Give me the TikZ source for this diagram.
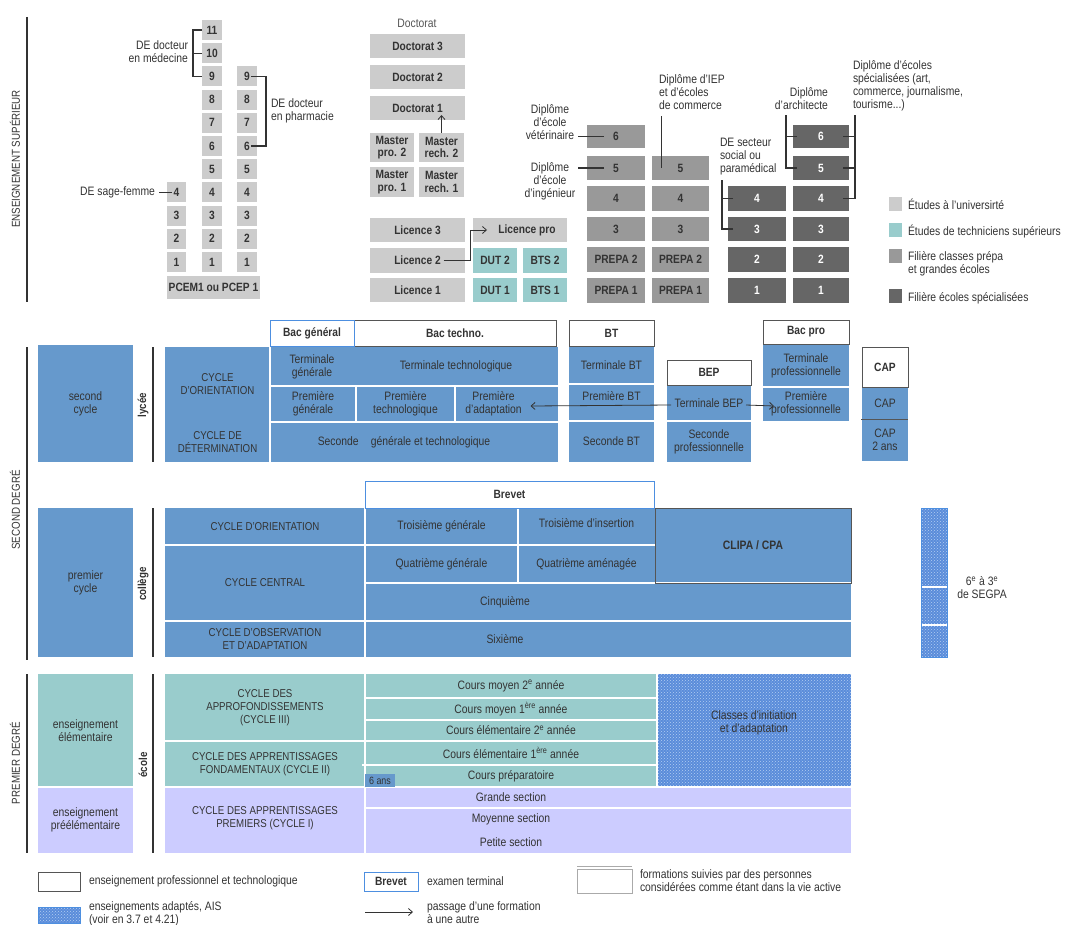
\documentclass[tikz,border=0pt]{standalone}
\usepackage{fontspec}
\setmainfont{Liberation Sans}[FakeStretch=0.85]
\usetikzlibrary{calc,patterns,arrows.meta}
\definecolor{txt}{HTML}{333333}
\definecolor{unic}{HTML}{CCCCCC}
\definecolor{tealc}{HTML}{99CCCC}
\definecolor{prepc}{HTML}{999999}
\definecolor{specc}{HTML}{666666}
\definecolor{bluec}{HTML}{6699CC}
\definecolor{lavc}{HTML}{CCCCFF}
\definecolor{exc}{HTML}{4D8FE0}
\definecolor{hdrc}{HTML}{555555}
\definecolor{segf}{HTML}{5A8CDA}
\definecolor{segd}{HTML}{B4CFF2}
\definecolor{lgc}{HTML}{AAAAAA}
\definecolor{docc}{HTML}{555555}
\newcommand\bx[7]{\node[#1, minimum width={((#5)-(#3))*1pt}, minimum height={((#6)-(#4))*1pt}] (#2) at ({((#3)+(#5))/2},{((#4)+(#6))/2}) {#7};}
\begin{document}
\begin{tikzpicture}[x=1pt,y=-1pt,
  base/.style={inner sep=0pt, outer sep=0pt, align=center, text=txt, font=\fontsize{12.2}{13}\selectfont},
  bb/.style={base, font=\fontsize{12}{12.5}\selectfont\bfseries},
  uni/.style={bb, fill=unic},
  tec/.style={bb, fill=tealc},
  prp/.style={bb, fill=prepc},
  spc/.style={bb, fill=specc, text=white},
  blu/.style={base, fill=bluec},
  tea/.style={base, fill=tealc},
  lav/.style={base, fill=lavc},
  hdr/.style={bb, fill=white, draw=hdrc, line width=0.9pt},
  exm/.style={bb, fill=white, draw=exc, line width=0.9pt},
  lab/.style={base},
  cyc/.style={font=\fontsize{11.4}{13}\selectfont},
  sep/.style={draw=white, line width=1.3pt},
  brk/.style={draw=txt, line width=1.1pt},
  arr/.style={draw=txt, line width=0.8pt, -{Straight Barb[length=4pt,width=7pt]}},
  segn/.style={base, preaction={fill=segf}, pattern=crosshatch dots, pattern color=segd},
  rot/.style={base, rotate=90, font=\fontsize{11.5}{12}\selectfont},
  axis/.style={draw=txt, line width=1.1pt}
]
\useasboundingbox (0,0) rectangle (1067,925);

% ---------------- axes
\draw[axis] (27,17) -- (27,302);
\node[rot] (tsup) at (15,159) {ENSEIGNEMENT SUPÉRIEUR};
\draw[axis] (27,347) -- (27,660);
\node[rot] (tsec) at (15,510) {SECOND DEGRÉ};
\draw[axis] (27,674) -- (27,853);
\node[rot] (tpre) at (15,763) {PREMIER DEGRÉ};

% ---------------- enseignement supérieur : santé
\foreach \k/\y in {4/192.4,3/215.6,2/238.8,1/262} {\bx{uni}{a\k}{167}{\y-10}{186}{\y+10}{\k}}
\foreach \k in {1,...,11} {\pgfmathsetmacro\yy{262-(\k-1)*23.2}\bx{uni}{b\k}{202}{\yy-10}{222}{\yy+10}{\k}}
\foreach \k in {1,...,9} {\pgfmathsetmacro\yy{262-(\k-1)*23.2}\bx{uni}{c\k}{237}{\yy-10}{257}{\yy+10}{\k}}
\bx{uni}{pcem}{167}{276}{260}{299}{PCEM1 ou PCEP 1}

\draw[brk] (b11.west) -- ++(-9,0) |- (b9.west);
\draw[brk] (b10.west) -- ++(-9,0);
\node[lab, anchor=east, align=right] (lmed) at (188,52) {DE docteur\\en médecine};
\draw[brk] ($(c9.center)+(4,0)$) -- ($(c9.center)+(19,0)$) |- ($(c6.center)+(4,0)$);
\node[lab, anchor=west, align=left] (lph) at (271,111) {DE docteur\\en pharmacie};
\draw[brk] ($(a4.center)+(-5,0)$) -- ++(-13,0);
\node[lab, anchor=east] (lsf) at (155,192.4) {DE sage-femme};

% ---------------- université
\node[lab, text=docc] (ldoc) at (417,23) {Doctorat};
\bx{uni}{d3}{370}{34}{465}{58}{Doctorat 3}
\bx{uni}{d2}{370}{65}{465}{89}{Doctorat 2}
\bx{uni}{d1}{370}{96}{465}{120}{Doctorat 1}
\bx{uni}{mp2}{370}{133}{414}{162}{Master\\pro. 2}
\bx{uni}{mr2}{419}{133}{464}{162}{Master\\rech. 2}
\bx{uni}{mp1}{370}{167}{414}{197}{Master\\pro. 1}
\bx{uni}{mr1}{419}{167}{464}{197}{Master\\rech. 1}
\bx{uni}{l3}{370}{218}{465}{242}{Licence 3}
\bx{uni}{l2}{370}{248}{465}{273}{Licence 2}
\bx{uni}{l1}{370}{278}{465}{302}{Licence 1}
\bx{uni}{lpro}{473}{218}{567}{242}{\hspace*{14pt}Licence pro}
\bx{tec}{dut2}{473}{248}{517}{273}{DUT 2}
\bx{tec}{bts2}{523}{248}{567}{273}{BTS 2}
\bx{tec}{dut1}{473}{278}{517}{302}{DUT 1}
\bx{tec}{bts1}{523}{278}{567}{302}{BTS 1}
\draw[arr] (mr2.north) -- ($(mr2.north |- d1.south)+(0,-5)$);
\draw[arr] ($(l2.center)+(26,0)$) -- ($(l2.east)+(5,0)$) |- ($(lpro.west)+(14,0)$);

% ---------------- prépa / écoles
\foreach \n/\ya/\yb/\tx in {6/125/148/6,5/156/180/5,4/186/211/4,3/217/241/3,2/247/272/PREPA 2,1/278/303/PREPA 1} {\bx{prp}{p\n}{587}{\ya}{645}{\yb}{\tx}}
\foreach \n/\ya/\yb/\tx in {5/156/180/5,4/186/211/4,3/217/241/3,2/247/272/PREPA 2,1/278/303/PREPA 1} {\bx{prp}{q\n}{652}{\ya}{709}{\yb}{\tx}}
\foreach \n/\ya/\yb in {4/186/211,3/217/241,2/247/272,1/278/303} {\bx{spc}{w\n}{728}{\ya}{786}{\yb}{\n}}
\foreach \n/\ya/\yb in {6/125/148,5/156/180,4/186/211,3/217/241,2/247/272,1/278/303} {\bx{spc}{x\n}{793}{\ya}{849}{\yb}{\n}}

\node[lab] (lvet) at (550,122) {Diplôme\\d’école\\vétérinaire};
\draw[brk] ($(p6.center)+(-12,0)$) -- ($(p6.center)+(-38,0)$);
\node[lab] (ling) at (550,181) {Diplôme\\d’école\\d’ingénieur};
\draw[brk] ($(p5.center)+(-12,0)$) -- ($(p5.center)+(-38,0)$);
\node[lab, anchor=west, align=left] (liep) at (659,92) {Diplôme d’IEP\\et d’écoles\\de commerce};
\draw[brk] ($(q5.center)+(-19,0)$) -- ($(q5.center)+(-19,-52)$);
\node[lab, anchor=east, align=right] (larch) at (828,99) {Diplôme\\d’architecte};
\draw[brk] ($(x6.west)+(4,0)$) -- ($(x6.west)+(-7,0)$);
\draw[brk] ($(x5.west)+(4,0)$) -| ($(x6.west)+(-7,-21)$);
\node[lab, anchor=west, align=left] (lpara) at (720,157) {DE secteur\\social ou\\paramédical};
\draw[brk] ($(w4.west)+(5,0)$) -- ($(w4.west)+(-6,0)$);
\draw[brk] ($(w3.west)+(5,0)$) -| ($(w4.west)+(-6,-18)$);
\node[lab, anchor=west, align=left] (lspe) at (853,86) {Diplôme d’écoles\\spécialisées (art,\\commerce, journalisme,\\tourisme...)};
\draw[brk] ($(x6.east)+(-6,0)$) -- ($(x6.east)+(6,0)$);
\draw[brk] ($(x5.east)+(-6,0)$) -- ($(x5.east)+(6,0)$);
\draw[brk] ($(x4.east)+(-6,0)$) -| ($(x6.east)+(6,-21)$);

% légende supérieur
\bx{uni}{lg1}{889}{197}{902}{211}{}
\bx{tec}{lg2}{889}{223}{902}{237}{}
\bx{prp}{lg3}{889}{249}{902}{263}{}
\bx{spc}{lg4}{889}{289}{902}{303}{}
\node[lab, anchor=west] (lgt1) at (908,204) {Études à l’universirté};
\node[lab, anchor=west] (lgt2) at (908,231) {Études de techniciens supérieurs};
\node[lab, anchor=west, align=left] (lgt3) at (908,264) {Filière classes prépa\\et grandes écoles};
\node[lab, anchor=west] (lgt4) at (908,298) {Filière écoles spécialisées};

% ---------------- lycée
\bx{blu}{scy}{38}{345}{133}{462}{second\\cycle}
\draw[axis] (153,347) -- (153,462);
\node[rot, font=\fontsize{11.5}{12}\selectfont\bfseries] (tly) at (143,405) {lycée};
\bx{blu,cyc}{cyo}{165}{347}{270}{422}{CYCLE\\D’ORIENTATION}
\bx{blu,cyc}{cyd}{165}{422}{270}{462}{CYCLE DE\\DÉTERMINATION}
\bx{blu}{tg}{270}{347}{354}{386}{Terminale\\générale}
\bx{blu}{tt}{354}{347}{558}{386}{Terminale technologique}
\bx{blu}{pg}{270}{386}{356}{422}{Première\\générale}
\bx{blu}{pt}{356}{386}{455}{422}{Première\\technologique}
\bx{blu}{pad}{455}{386}{558}{422}{Première\hspace*{26pt}\\d’adaptation\hspace*{26pt}}
\bx{blu}{sgt}{270}{422}{558}{462}{Seconde\quad générale et technologique\hspace*{20pt}}
\bx{blu}{tbt}{569}{346}{654}{384}{Terminale BT}
\bx{blu}{pbt}{569}{384}{654}{421}{Première BT\\\mbox{}}
\bx{blu}{sbt}{569}{421}{654}{462}{Seconde BT}
\bx{blu}{tbep}{667}{385}{751}{421}{Terminale BEP}
\bx{blu}{spro}{667}{421}{751}{462}{Seconde\\professionnelle}
\bx{blu}{tpro}{763}{344}{849}{387}{Terminale\\professionnelle}
\bx{blu}{ppro}{763}{387}{849}{421}{Première\\professionnelle}
\bx{blu}{capa}{862}{387}{908}{419}{CAP}
\bx{blu}{cap2}{862}{419}{908}{461}{CAP\\2 ans}

% séparateurs lycée
\draw[sep] (tg.north west) -- (sgt.south west);
\draw[sep] (tg.south west) -- (tt.south east);
\draw[sep] (pg.south west) -- (pad.south east);
\draw[sep] (pg.north east) -- (pg.south east);
\draw[sep] (pt.north east) -- (pt.south east);
\draw[sep] (tbt.south west) -- (tbt.south east);
\draw[sep] (pbt.south west) -- (pbt.south east);
\draw[sep] (tbep.south west) -- (tbep.south east);
\draw[sep] (tpro.south west) -- (tpro.south east);
\draw[draw=hdrc, line width=0.9pt] ($(capa.south west)+(-1,0)$) -- (capa.south east);

% en-têtes d'examen
\bx{hdr}{btec}{354}{320}{556}{346}{Bac techno.}
\bx{exm}{bgen}{270}{320}{354}{346}{Bac général}
\bx{hdr}{bt}{569}{320}{654}{346}{BT}
\bx{hdr}{bep}{667}{360}{751}{385}{BEP}
\bx{hdr}{bpro}{763}{320}{849}{344}{Bac pro}
\bx{hdr}{cap}{862}{347}{908}{387}{CAP}

\draw[arr] ($(tbep.center)+(-38,2)$) -- ($(pad.center)+(24,2)$);
\draw[arr] ($(tbep.center)+(37,2)$) -- ($(ppro.west)+(11,2)$);

% ---------------- collège
\bx{blu}{pcy}{38}{508}{133}{657}{premier\\cycle}
\draw[axis] (153,508) -- (153,657);
\node[rot, font=\fontsize{11.5}{12}\selectfont\bfseries] (tco) at (143,584) {collège};
\bx{blu,cyc}{co}{165}{508}{365}{545}{CYCLE D’ORIENTATION}
\bx{blu,cyc}{cc}{165}{545}{365}{621}{CYCLE CENTRAL}
\bx{blu,cyc}{cobs}{165}{621}{365}{657}{CYCLE D’OBSERVATION\\ET D’ADAPTATION}
\bx{blu}{tg3}{365}{508}{518}{545}{Troisième générale}
\bx{blu}{ti3}{518}{508}{655}{545}{Troisième d’insertion\\[-7pt]\mbox{}}
\bx{blu}{qg}{365}{545}{518}{583}{Quatrième générale}
\bx{blu}{qa}{518}{545}{655}{583}{Quatrième aménagée}
\bx{blu}{clipa}{655}{508}{851}{583}{\bfseries CLIPA / CPA}
\bx{blu}{cinq}{365}{583}{851}{621}{Cinquième\hspace*{206pt}}
\bx{blu}{six}{365}{621}{851}{657}{Sixième\hspace*{206pt}}
\bx{segn}{segpa}{921}{508}{947}{657}{}
\draw[sep] (tg3.north west) -- (six.south west);
\draw[sep] (co.south west) -- (ti3.south east);
\draw[sep] (qg.south west) -- (cinq.north east);
\draw[sep] (cobs.north west) -- (six.north east);
\draw[sep] (tg3.north east) -- (qg.south east);
\draw[sep] ($(segpa.north west)+(0,79)$) -- ($(segpa.north east)+(0,79)$);
\draw[sep] ($(segpa.north west)+(0,117)$) -- ($(segpa.north east)+(0,117)$);
\draw[draw=exc, line width=0.9pt] (segpa.north west) rectangle (segpa.south east);
\draw[draw=hdrc, line width=1pt] (clipa.north west) rectangle (clipa.south east);
\bx{exm}{brevet}{365}{481}{654}{508}{Brevet}
\node[lab] (lsegpa) at (982,588) {6\textsuperscript{e} à 3\textsuperscript{e}\\de SEGPA};

% ---------------- premier degré
\bx{tea}{ee}{38}{674}{133}{787}{enseignement\\élémentaire}
\bx{lav}{epe}{38}{787}{133}{853}{enseignement\\préélémentaire}
\draw[axis] (153,674) -- (153,853);
\node[rot, font=\fontsize{11.5}{12}\selectfont\bfseries] (tec) at (143,765) {école};
\bx{tea,cyc}{c3}{165}{674}{365}{741}{CYCLE DES\\APPROFONDISSEMENTS\\(CYCLE III)}
\bx{tea,cyc}{c2}{165}{741}{365}{787}{CYCLE DES APPRENTISSAGES\\FONDAMENTAUX (CYCLE II)}
\bx{lav,cyc}{c1}{165}{787}{365}{853}{CYCLE DES APPRENTISSAGES\\PREMIERS (CYCLE I)\\[-7pt]\mbox{}}
\bx{tea}{cm2}{365}{674}{657}{698}{Cours moyen 2\textsuperscript{e} année}
\bx{tea}{cm1}{365}{698}{657}{720}{Cours moyen 1\textsuperscript{ère} année}
\bx{tea}{ce2}{365}{720}{657}{741}{Cours élémentaire 2\textsuperscript{e} année}
\bx{tea}{ce1}{365}{741}{657}{765}{Cours élémentaire 1\textsuperscript{ère} année}
\bx{tea}{cp}{365}{765}{657}{787}{Cours préparatoire}
\bx{segn}{cia}{657}{674}{851}{787}{Classes d’initiation\\et d’adaptation\\[4pt]\mbox{}}
\bx{lav}{gs}{365}{787}{851}{808}{Grande section\hspace*{194pt}}
\bx{lav}{ms}{365}{808}{851}{831}{Moyenne section\hspace*{194pt}}
\bx{lav}{ps}{365}{831}{851}{853}{Petite section\hspace*{194pt}}
\draw[sep] (c3.north east) -- (c1.south east);
\draw[sep] (cm2.south west) -- (cm2.south east);
\draw[sep] (cm1.south west) -- (cm1.south east);
\draw[sep] (c3.south west) -- (ce2.south east);
\draw[sep] ($(ce1.south west)+(-3,0)$) -- (ce1.south east);
\draw[sep] (ee.south west) -- (ee.south east);
\draw[sep] (c2.south west) -- (gs.north east);
\draw[sep] (gs.south west) -- (gs.south east);
\draw[sep] (cia.north west) -- (cia.south west);
\bx{blu}{six ans}{365}{774}{395}{787}{\fontsize{10.5}{11}\selectfont 6 ans}

% ---------------- légende du bas
\bx{base, draw=hdrc, line width=0.9pt}{lgp}{38}{872}{80}{891}{}
\node[lab, anchor=west] (lgpt) at (89,881) {enseignement professionnel et technologique};
\bx{segn, draw=exc, line width=0.6pt}{lga}{38}{907}{80}{923}{}
\node[lab, anchor=west, align=left] (lgat) at (89,914) {enseignements adaptés, AIS\\(voir en 3.7 et 4.21)};
\bx{exm}{lgb}{364}{872}{418}{891}{Brevet}
\node[lab, anchor=west] (lgbt) at (427,881) {examen terminal};
\coordinate (la1) at (365,912);
\coordinate (la2) at (413,912);
\draw[arr] (la1) -- (la2);
\node[lab, anchor=west, align=left] (lgct) at (427,913) {passage d’une formation\\à une autre};
\bx{base, draw=lgc, line width=0.8pt}{lgv}{577}{869}{632}{893}{}
\draw[draw=lgc, line width=0.6pt] ($(lgv.north west)+(0,-3)$) -- ($(lgv.north east)+(0,-3)$);
\node[lab, anchor=west, align=left] (lgvt) at (640,881) {formations suivies par des personnes\\considérées comme étant dans la vie active};
\end{tikzpicture}
\end{document}
